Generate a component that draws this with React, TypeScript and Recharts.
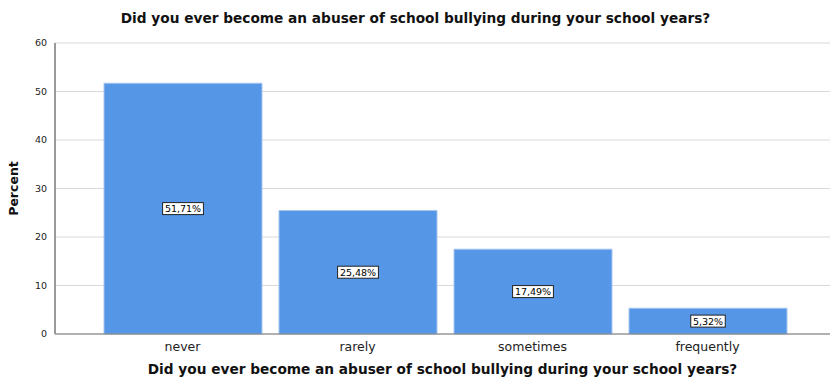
import { Bar, BarChart, CartesianGrid, LabelList, XAxis, YAxis, Label } from "recharts";

const categories = ["never", "rarely", "sometimes", "frequently"];
const percents = [51.71, 25.48, 17.49, 5.32];
const yTicks = [0, 10, 20, 30, 40, 50, 60];

const TITLE = "Did you ever become an abuser of school bullying during your school years?";
const FONT = "DejaVu Sans, Verdana, sans-serif";

const data = categories.map((name, i) => ({ name, value: percents[i] }));

const fmt = (v: number) => v.toFixed(2).replace(".", ",") + "%";

// white boxed value label centred in the bar
function BoxLabel(props: any) {
  const { x, y, width, height, value } = props;
  const text = fmt(Number(value));
  const w = text.length * 6.3 + 3;
  const h = 12;
  const cx = x + width / 2;
  const cy = y + height / 2;
  return (
    <g>
      <rect x={cx - w / 2} y={cy - h / 2} width={w} height={h} fill="#fff" stroke="#222" strokeWidth={1} />
      <text x={cx} y={cy + 3.5} textAnchor="middle" fontSize={9.5} fill="#000" fontFamily={FONT}>
        {text}
      </text>
    </g>
  );
}

export default function App() {
  return (
    <div style={{ position: "fixed", left: 0, top: 0, width: 831, height: 377, background: "#fff", fontFamily: FONT }}>
      <div style={{ position: "absolute", top: 10, left: 0, width: 831, textAlign: "center", fontWeight: "bold", fontSize: 13.7, color: "#111" }}>
        {TITLE}
      </div>
      <BarChart width={831} height={377} data={data} margin={{ top: 43, right: 1, bottom: 13, left: 0 }} barSize={158}>
        <CartesianGrid vertical={false} stroke="#d9d9d9" />
        <XAxis
          dataKey="name"
          height={30}
          tickLine={false}
          axisLine={{ stroke: "#777" }}
          tick={{ fill: "#222", fontSize: 12.5, fontFamily: FONT }}
          padding={{ left: 40, right: 35 }}
          interval={0}
        >
          <Label value={TITLE} position="insideBottom" offset={-10} style={{ fontWeight: "bold", fontSize: 13.7, fill: "#111", fontFamily: FONT }} />
        </XAxis>
        <YAxis
          width={55}
          domain={[0, 60]}
          ticks={yTicks}
          tickLine={false}
          axisLine={{ stroke: "#999", strokeWidth: 2 }}
          tick={{ fill: "#222", fontSize: 9.5, fontFamily: FONT }}
        >
          <Label value="Percent" angle={-90} position="insideLeft" offset={14} style={{ fontWeight: "bold", fontSize: 12.5, fill: "#111", textAnchor: "middle", fontFamily: FONT }} />
        </YAxis>
        <Bar dataKey="value" fill="#5596e6" stroke="#a8c6ee" strokeWidth={1} isAnimationActive={false}>
          <LabelList dataKey="value" content={BoxLabel} />
        </Bar>
      </BarChart>
    </div>
  );
}
